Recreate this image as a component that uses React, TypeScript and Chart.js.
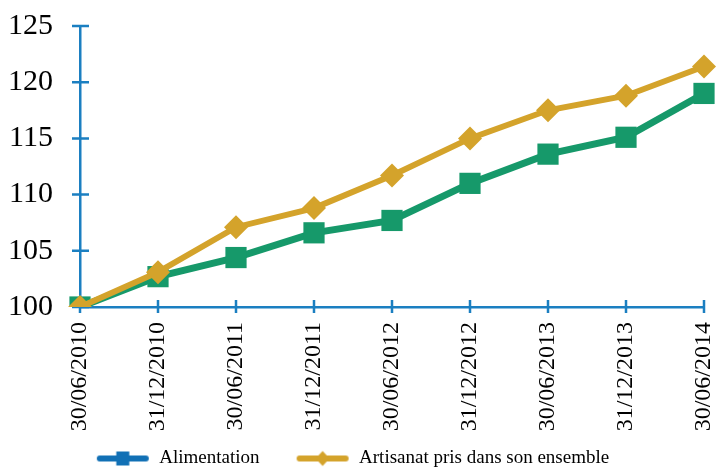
import React, { useEffect, useRef } from "react";
import { Chart, registerables } from "chart.js";

Chart.register(...registerables);

const categories = [
  "30/06/2010",
  "31/12/2010",
  "30/06/2011",
  "31/12/2011",
  "30/06/2012",
  "31/12/2012",
  "30/06/2013",
  "31/12/2013",
  "30/06/2014",
];
const alimentation = [100, 102.7, 104.4, 106.6, 107.7, 111.0, 113.6, 115.1, 119.0];
const artisanat = [100, 103.1, 107.1, 108.8, 111.7, 115.0, 117.5, 118.8, 121.4];
const seriesNames = ["Alimentation", "Artisanat pris dans son ensemble"];
const yTicks = { min: 100, max: 125, step: 5 };

const AXIS = "#1b7fc1";
const GREEN = "#16996a";
const GOLD = "#d4a32b";
const LEGEND_BLUE = "#1170b5";
const FONT = "'Liberation Serif', 'Times New Roman', serif";

function legendIcon(color: string, shape: "square" | "diamond") {
  const c = document.createElement("canvas");
  c.width = 54;
  c.height = 22;
  const ctx = c.getContext("2d")!;
  ctx.strokeStyle = color;
  ctx.lineWidth = 6;
  ctx.lineCap = "round";
  ctx.beginPath();
  ctx.moveTo(4, 11);
  ctx.lineTo(50, 11);
  ctx.stroke();
  ctx.fillStyle = color;
  if (shape === "square") {
    ctx.fillRect(27 - 6.5, 11 - 7, 13, 14);
  } else {
    ctx.beginPath();
    ctx.moveTo(27, 11 - 7.5);
    ctx.lineTo(27 + 7, 11);
    ctx.lineTo(27, 11 + 7.5);
    ctx.lineTo(27 - 7, 11);
    ctx.closePath();
    ctx.fill();
  }
  return c;
}

const crossTicks = {
  id: "crossTicks",
  afterLayout(chart: any) {
    // let rotated x labels extend down to the canvas bottom, and lower the legend a bit
    const xs = chart.scales.x;
    xs.bottom = chart.height;
    if (chart.legend) {
      chart.legend.top += 7;
      chart.legend.bottom += 7;
    }
  },
  beforeDatasetsDraw(chart: any) {
    const { ctx, scales } = chart;
    const xs = scales.x;
    const ys = scales.y;
    ctx.save();
    ctx.strokeStyle = AXIS;
    ctx.lineWidth = 2.5;
    ctx.beginPath();
    const ax = chart.chartArea.left;
    ys.ticks.forEach((t: any) => {
      const py = ys.getPixelForValue(t.value);
      ctx.moveTo(ax - 8, py);
      ctx.lineTo(ax + 9, py);
    });
    const ay = chart.chartArea.bottom;
    xs.ticks.forEach((_t: any, i: number) => {
      const px = xs.getPixelForTick(i);
      ctx.moveTo(px, ay - 7);
      ctx.lineTo(px, ay + 6);
    });
    ctx.stroke();
    ctx.restore();
  },
};

export default function App() {
  const ref = useRef<HTMLCanvasElement | null>(null);
  useEffect(() => {
    if (!ref.current) return;
    const icons = [legendIcon(LEGEND_BLUE, "square"), legendIcon(GOLD, "diamond")];
    const chart = new Chart(ref.current, {
      type: "line",
      data: {
        labels: categories,
        datasets: [
          {
            label: seriesNames[0],
            data: alimentation,
            borderColor: GREEN,
            backgroundColor: GREEN,
            borderWidth: 7,
            pointStyle: "rect",
            pointRadius: 15,
            pointBorderWidth: 0,
            pointBackgroundColor: GREEN,
            tension: 0,
            order: 1,
          },
          {
            label: seriesNames[1],
            data: artisanat,
            borderColor: GOLD,
            backgroundColor: GOLD,
            borderWidth: 6,
            pointStyle: "rectRot",
            pointRadius: 12,
            pointBorderWidth: 0,
            pointBackgroundColor: GOLD,
            tension: 0,
            order: 0,
          },
        ],
      },
      options: {
        responsive: false,
        animation: false,
        layout: { padding: { top: 26, right: 14, bottom: 0, left: 0 } },
        plugins: {
          title: { display: false },
          tooltip: { enabled: false },
          legend: {
            position: "bottom",
            labels: {
              usePointStyle: true,
              pointStyleWidth: 54,
              padding: 36,
              color: "#000",
              font: { family: FONT, size: 19 },
              generateLabels: () =>
                seriesNames.map((name, i) => ({
                  text: name,
                  pointStyle: icons[i] as any,
                  fillStyle: "transparent",
                  strokeStyle: "transparent",
                  lineWidth: 0,
                  hidden: false,
                  datasetIndex: i,
                  fontColor: "#000",
                })),
            },
          },
        },
        scales: {
          x: {
            type: "category",
            offset: false,
            grid: { display: false, drawTicks: false },
            border: { display: true, color: AXIS, width: 2.5 },
            ticks: {
              minRotation: 90,
              maxRotation: 90,
              autoSkip: false,
              padding: 15,
              color: "#000",
              font: { family: FONT, size: 24 },
            },
            afterFit: (scale: any) => {
              const lg = scale.chart.legend;
              const lh = lg ? lg.height : 0;
              scale.height = 471 - 307 - lh;
              scale.paddingLeft = 0;
              scale.paddingRight = 0;
            },
          },
          y: {
            min: yTicks.min,
            max: yTicks.max,
            grid: { display: false, drawTicks: false },
            border: { display: true, color: AXIS, width: 2.5 },
            ticks: {
              stepSize: yTicks.step,
              padding: 27,
              color: "#000",
              font: { family: FONT, size: 30 },
            },
            afterFit: (scale: any) => {
              scale.width = 80;
              scale.paddingTop = 0;
              scale.paddingBottom = 0;
            },
          },
        },
      },
      plugins: [crossTicks],
    });
    return () => chart.destroy();
  }, []);
  return (
    <div style={{ position: "absolute", left: 0, top: 0, width: 719, height: 471, background: "#fff" }}>
      <canvas ref={ref} width={719} height={471} style={{ display: "block" }} />
    </div>
  );
}
